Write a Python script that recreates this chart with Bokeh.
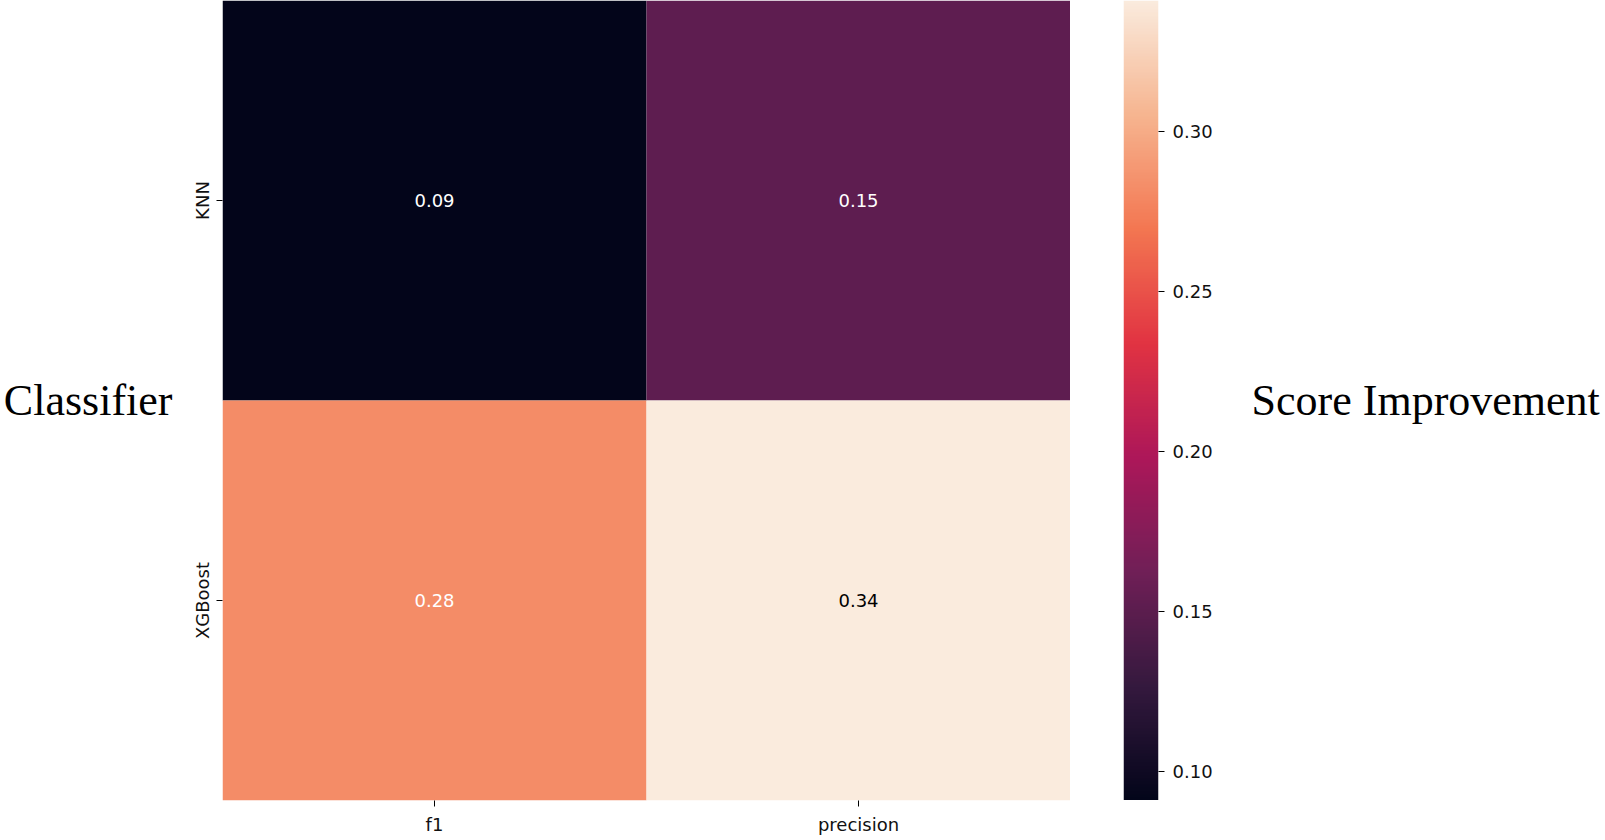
import numpy as np
from bokeh.plotting import figure
from bokeh.layouts import row
from bokeh.models import (ColumnDataSource, LinearColorMapper, FixedTicker,
                          PrintfTickFormatter, Range1d)
from bokeh.transform import transform
from bokeh.core.properties import value
from bokeh.embed import file_html
from bokeh.resources import INLINE

# ---- data ----
classifiers = ["KNN", "XGBoost"]
metrics = ["f1", "precision"]
knn_scores = [0.091, 0.152]
xgb_scores = [0.282, 0.341]
cbar_ticks = [0.10, 0.15, 0.20, 0.25, 0.30]

# ---- rocket-like palette (style) ----
anchors_pos = [0.0, 1/7, 2/7, 3/7, 4/7, 5/7, 6/7, 1.0]
anchors_hex = ["#03051a", "#35193e", "#701f57", "#ad1759", "#e13342", "#f37651", "#f6b48f", "#faebdd"]
anc_rgb = np.array([[int(h[i:i+2], 16) for i in (1, 3, 5)] for h in anchors_hex], dtype=float)
tt = np.linspace(0, 1, 256)
pal_rgb = np.stack([np.interp(tt, anchors_pos, anc_rgb[:, k]) for k in range(3)], axis=1)
palette = ["#%02x%02x%02x" % tuple(int(round(c)) for c in r) for r in pal_rgb]

all_vals = knn_scores + xgb_scores
lo, hi = min(all_vals), max(all_vals)
mapper = LinearColorMapper(palette=palette, low=lo, high=hi)

def text_color(v):
    idx = int(round((v - lo) / (hi - lo) * 255))
    r, g, b = (pal_rgb[idx] / 255.0)
    def lin(c):
        return c / 12.92 if c <= 0.03928 else ((c + 0.055) / 1.055) ** 2.4
    lum = 0.2126 * lin(r) + 0.7152 * lin(g) + 0.0722 * lin(b)
    return "black" if lum > 0.408 else "white"

xs, ys, vs = [], [], []
for c, rowvals in zip(classifiers, [knn_scores, xgb_scores]):
    for m, v in zip(metrics, rowvals):
        xs.append(m); ys.append(c); vs.append(v)
src = ColumnDataSource(dict(x=xs, y=ys, v=vs,
                            label=["%.2f" % v for v in vs],
                            tc=[text_color(v) for v in vs]))

FONT = "DejaVu Sans"
FS = "18px"
FRAME_H = 800

# ---- heatmap ----
p = figure(x_range=metrics, y_range=classifiers[::-1],
           frame_width=848, frame_height=FRAME_H,
           output_backend="svg", toolbar_location=None,
           min_border_left=214, min_border_top=0, min_border_right=0, min_border_bottom=0)

p.rect(x="x", y="y", width=1, height=1, source=src,
       fill_color=transform("v", mapper), line_color=None)
p.text(x="x", y="y", text="label", text_color="tc", source=src,
       text_align="center", text_baseline="middle",
       text_font=value(FONT), text_font_size=FS)

p.grid.visible = False
p.outline_line_color = None
p.axis.axis_line_color = None
p.axis.major_tick_in = 0
p.axis.major_tick_out = 6
p.axis.major_tick_line_color = "black"
p.axis.minor_tick_line_color = None
p.axis.major_label_text_font = FONT
p.axis.major_label_text_font_size = FS
p.axis.major_label_text_color = "#111111"
p.xaxis.major_label_standoff = 7
p.yaxis.major_label_standoff = 4
p.yaxis.major_label_orientation = "vertical"

p.yaxis.axis_label = "Classifier"
p.yaxis.axis_label_orientation = "horizontal"
p.yaxis.axis_label_text_font = "Liberation Serif"
p.yaxis.axis_label_text_font_size = "44px"
p.yaxis.axis_label_text_font_style = "normal"
p.yaxis.axis_label_text_color = "black"
p.yaxis.axis_label_standoff = 16

# ---- colour bar (drawn as its own small figure) ----
grad = np.linspace(lo, hi, 256).reshape(-1, 1)
cb = figure(x_range=Range1d(0, 1), y_range=Range1d(lo, hi),
            frame_width=35, frame_height=FRAME_H,
            x_axis_location=None, y_axis_location="right",
            output_backend="svg", toolbar_location=None,
            min_border_left=53, min_border_top=0, min_border_right=0, min_border_bottom=0)
cb.image(image=[grad], x=0, y=lo, dw=1, dh=hi - lo, color_mapper=mapper)
cb.grid.visible = False
cb.outline_line_color = None
cb.yaxis.ticker = FixedTicker(ticks=cbar_ticks)
cb.yaxis.formatter = PrintfTickFormatter(format="%.2f")
cb.yaxis.axis_line_color = None
cb.yaxis.major_tick_in = 0
cb.yaxis.major_tick_out = 6
cb.yaxis.major_tick_line_color = "black"
cb.yaxis.minor_tick_line_color = None
cb.yaxis.major_label_standoff = 8
cb.yaxis.major_label_text_font = FONT
cb.yaxis.major_label_text_font_size = FS
cb.yaxis.major_label_text_color = "#111111"
cb.yaxis.axis_label = "Score Improvement"
cb.yaxis.axis_label_orientation = "horizontal"
cb.yaxis.axis_label_text_font = "Liberation Serif"
cb.yaxis.axis_label_text_font_size = "44px"
cb.yaxis.axis_label_text_font_style = "normal"
cb.yaxis.axis_label_text_color = "black"
cb.yaxis.axis_label_standoff = 36

layout = row(p, cb)
open("out.html", "w").write(file_html(layout, INLINE))
